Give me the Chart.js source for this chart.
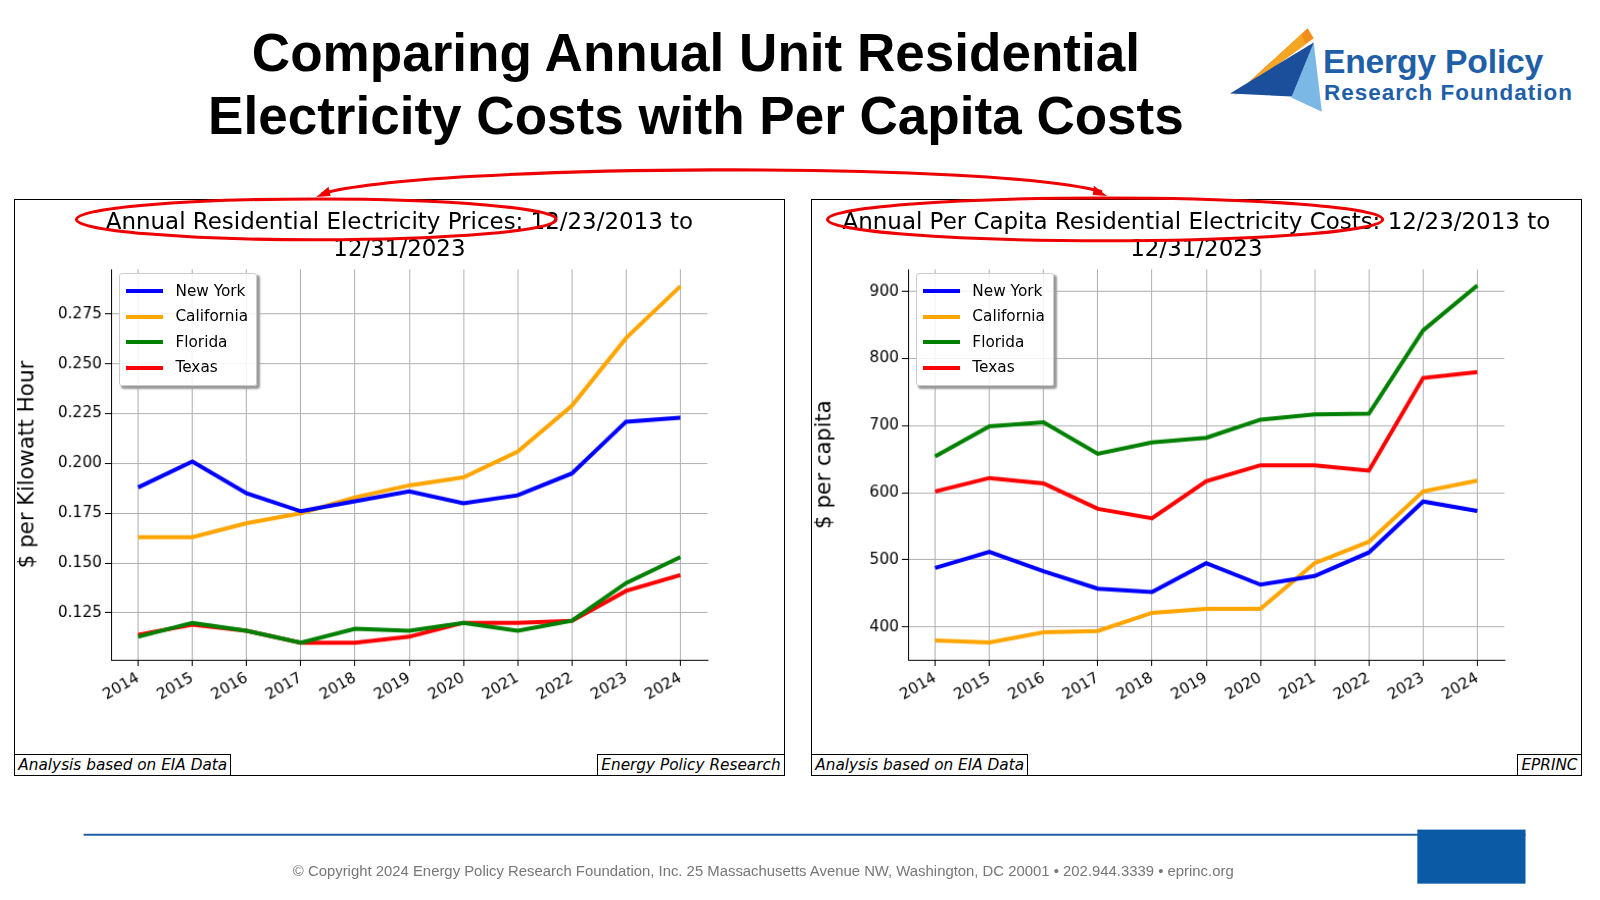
<!DOCTYPE html>
<html><head><meta charset="utf-8">
<script src="https://cdn.jsdelivr.net/npm/chart.js@4"></script>
<style>
body{margin:0;width:1600px;height:900px;background:#fff;overflow:hidden}
#wrap{position:relative;width:1568px;height:882px;zoom:1.0204;font-family:"Liberation Sans",Arial,sans-serif}
.abs{position:absolute}
.box{position:absolute;border:1px solid #000;background:#fff}
.ct{position:absolute;left:0;width:100%;text-align:center;font-family:"DejaVu Sans";font-size:22.5px;line-height:26px;top:8px;color:#000}
.leg{position:absolute;border:1px solid #ccc;background:rgba(255,255,255,.85);box-shadow:2px 2px 2px #999;font-family:"DejaVu Sans";font-size:15px;padding:4px 8px 4px 6px;border-radius:3px}
.leg div{height:25px;line-height:25px;display:flex;align-items:center}
.leg span{display:inline-block;width:36px;height:4px;margin-right:12px}
.note{position:absolute;bottom:-1px;font-family:"DejaVu Sans";font-style:italic;font-size:15px;border:1px solid #000;padding:0 3px;line-height:20px;background:#fff}
</style></head><body><div id="wrap">
<div class="abs" style="left:0;width:1364px;top:22px;text-align:center;font-weight:bold;font-size:52px;line-height:61px">Comparing Annual Unit Residential<br>Electricity Costs with Per Capita Costs</div>
<svg class="abs" style="left:1203px;top:20px" width="360" height="95">
<polygon points="5,75 78,8 84,18" fill="#f28c1c"/>
<polygon points="12,70 72,14 76,24" fill="#f5a623"/>
<polygon points="2,72 84,22 84,76" fill="#1b4f9c"/>
<polygon points="62,76 84,22 92,90" fill="#7cb8e6"/>
<text x="93" y="52" font-family="Liberation Sans" font-weight="bold" font-size="33" fill="#1f5fa8" textLength="216">Energy Policy</text>
<text x="94" y="78" font-family="Liberation Sans" font-weight="bold" font-size="22" fill="#1f5fa8" textLength="243">Research Foundation</text>
</svg>

<div class="box" style="left:14px;top:195px;width:753px;height:564px">
<canvas id="c1" width="753" height="564"></canvas>
<div class="ct">Annual Residential Electricity Prices: 12/23/2013 to<br>12/31/2023</div>
<div class="leg" style="left:102px;top:72px"><div><span style="background:#0000ff"></span>New York</div><div><span style="background:#ffa500"></span>California</div><div><span style="background:#008000"></span>Florida</div><div><span style="background:#ff0000"></span>Texas</div></div>
<div class="note" style="left:-1px">Analysis based on EIA Data</div>
<div class="note" style="right:-1px">Energy Policy Research</div>
</div>
<div class="box" style="left:795px;top:195px;width:753px;height:564px">
<canvas id="c2" width="753" height="564"></canvas>
<div class="ct">Annual Per Capita Residential Electricity Costs: 12/23/2013 to<br>12/31/2023</div>
<div class="leg" style="left:102px;top:72px"><div><span style="background:#0000ff"></span>New York</div><div><span style="background:#ffa500"></span>California</div><div><span style="background:#008000"></span>Florida</div><div><span style="background:#ff0000"></span>Texas</div></div>
<div class="note" style="left:-1px">Analysis based on EIA Data</div>
<div class="note" style="right:-1px">EPRINC</div>
</div>

<svg class="abs" style="left:0;top:0;pointer-events:none" width="1600" height="900">
<ellipse cx="310" cy="215" rx="235" ry="20" fill="none" stroke="#e00" stroke-width="3"/>
<ellipse cx="1083" cy="215" rx="272" ry="21" fill="none" stroke="#e00" stroke-width="3"/>
<path d="M315,190 C420,160 980,158 1080,188" fill="none" stroke="#e00" stroke-width="3"/>
<polygon points="310,193 322,183 324,192" fill="#e00"/>
<polygon points="1085,192 1072,182 1071,191" fill="#e00"/>
<line x1="82" y1="818" x2="1495" y2="818" stroke="#1f5fa6" stroke-width="2"/>
<rect x="1389" y="813" width="106" height="53" fill="#0b5aa5"/>
</svg>
<div class="abs" style="left:0;width:1496px;top:846px;text-align:center;font-size:14.6px;color:#777">© Copyright 2024 Energy Policy Research Foundation, Inc. 25 Massachusetts Avenue NW, Washington, DC 20001 • 202.944.3339 • eprinc.org</div>
</div>
<script>
const years=[2014,2015,2016,2017,2018,2019,2020,2021,2022,2023,2024];
const priceNY=[0.188,0.201,0.185,0.176,0.181,0.186,0.180,0.184,0.195,0.221,0.223];
const priceCA=[0.163,0.163,0.170,0.175,0.183,0.189,0.193,0.206,0.229,0.263,0.289];
const priceFL=[0.113,0.120,0.116,0.110,0.117,0.116,0.120,0.116,0.121,0.140,0.153];
const priceTX=[0.114,0.119,0.116,0.110,0.110,0.113,0.120,0.120,0.121,0.136,0.144];
const capNY=[488,512,483,457,452,495,463,476,511,587,573];
const capCA=[380,377,392,394,421,427,427,495,527,602,618];
const capFL=[654,699,705,658,675,682,709,717,718,842,909];
const capTX=[602,622,614,576,562,617,641,641,633,771,780];
const priceTicks=[0.125,0.150,0.175,0.200,0.225,0.250,0.275];
const capTicks=[400,500,600,700,800,900];

function mk(id,series,ymin,ymax,yt,ytitle,fmt){
  const names=['New York','California','Florida','Texas'],cols=['#0000ff','#ffa500','#008000','#ff0000'];
  new Chart(document.getElementById(id),{type:'line',
    data:{datasets:series.map((s,i)=>({label:names[i],data:years.map((y,j)=>({x:y,y:s[j]})),borderColor:cols[i],borderWidth:4,pointRadius:0,tension:0}))},
    options:{responsive:false,animation:false,devicePixelRatio:1,layout:{padding:{top:68,right:75,left:0,bottom:0}},
      plugins:{legend:{display:false},tooltip:{enabled:false}},
      scales:{
        x:{type:'linear',min:2013.5,max:2024.5,afterBuildTicks:a=>{a.ticks=years.map(v=>({value:v}))},
          afterFit:a=>{a.height=113},border:{color:'#000'},
          grid:{color:'#b0b0b0',tickColor:'#000',tickLength:6},
          ticks:{maxRotation:30,minRotation:30,color:'#000',font:{family:'DejaVu Sans',size:15},callback:v=>String(v)}},
        y:{min:ymin,max:ymax,afterBuildTicks:a=>{a.ticks=yt.map(v=>({value:v}))},
          afterFit:a=>{a.width=94},border:{color:'#000'},
          grid:{color:'#b0b0b0',tickColor:'#000',tickLength:6},
          title:{display:true,text:ytitle,color:'#000',font:{family:'DejaVu Sans',size:21},padding:0},
          ticks:{color:'#000',font:{family:'DejaVu Sans',size:15},callback:fmt}}
      }}});
}
mk('c1',[priceNY,priceCA,priceFL,priceTX],0.1014,0.2975,priceTicks,'$ per Kilowatt Hour',v=>v.toFixed(3));
mk('c2',[capNY,capCA,capFL,capTX],351,933,capTicks,'$ per capita',v=>String(v));
</script>
</body></html>
